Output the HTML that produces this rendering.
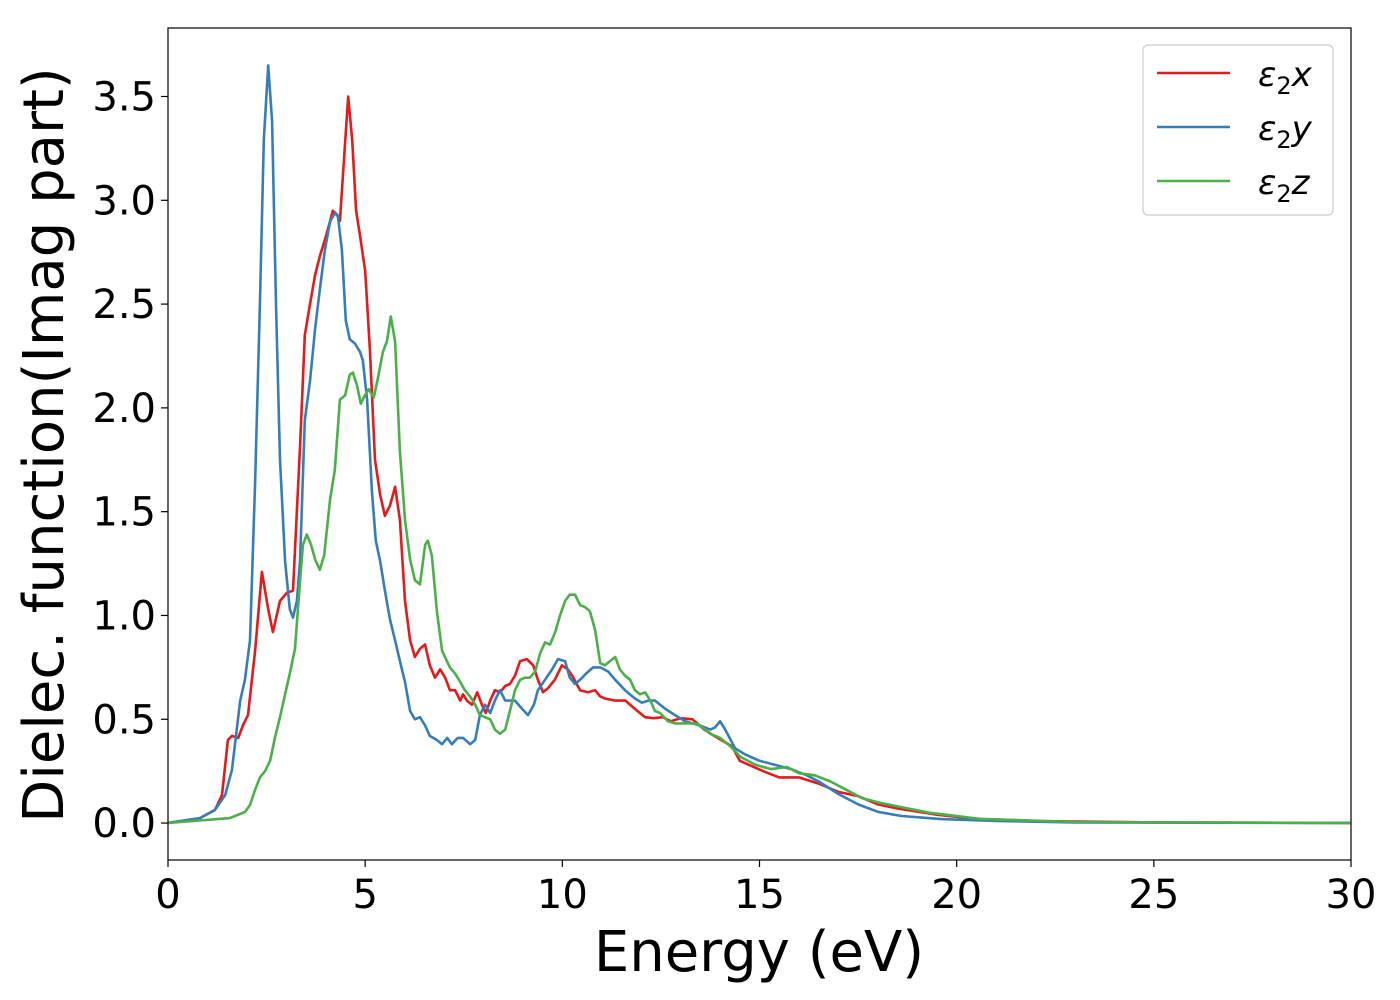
<!DOCTYPE html>
<html><head><meta charset="utf-8"><style>body{margin:0;background:#fff}svg{display:block;font-family:"DejaVu Sans","Liberation Sans",sans-serif}</style></head>
<body>
<svg id="chart" width="1400" height="1000">
<rect width="1400" height="1000" fill="#fff"/>
<g id="plot"></g>
<g id="axes"></g>
<text x="759" y="971" font-size="56" text-anchor="middle">Energy (eV)</text>
<text transform="translate(63,445) rotate(-90)" font-size="56" text-anchor="middle">Dielec. function(Imag part)</text>
<g>
<rect x="1143" y="45" width="190" height="170" rx="5" fill="#fff" stroke="#ccc" stroke-width="1.2"/>
<g><line x1="1157" y1="73" x2="1230" y2="73" stroke="#e41a1c" stroke-width="2.5"/><text x="1258" y="86" font-size="34" font-style="italic">ε<tspan font-size="24" dy="8" font-style="normal">2</tspan><tspan dy="-8">x</tspan></text></g>
<g><line x1="1157" y1="127" x2="1230" y2="127" stroke="#377eb8" stroke-width="2.5"/><text x="1258" y="140" font-size="34" font-style="italic">ε<tspan font-size="24" dy="8" font-style="normal">2</tspan><tspan dy="-8">y</tspan></text></g>
<g><line x1="1157" y1="181" x2="1230" y2="181" stroke="#4daf4a" stroke-width="2.5"/><text x="1258" y="194" font-size="34" font-style="italic">ε<tspan font-size="24" dy="8" font-style="normal">2</tspan><tspan dy="-8">z</tspan></text></g>
</g>
</svg>
<script>
const xTicks=[0,5,10,15,20,25,30];
const yTicks=[0,0.5,1.0,1.5,2.0,2.5,3.0,3.5];
const yTickLabels=["0.0","0.5","1.0","1.5","2.0","2.5","3.0","3.5"];
const seriesX=[[0,0],[0.81,0.024],[1.19,0.063],[1.37,0.135],[1.52,0.40],[1.62,0.42],[1.78,0.41],[1.90,0.47],[2.03,0.52],[2.21,0.83],[2.38,1.21],[2.54,1.03],[2.66,0.92],[2.84,1.07],[3.02,1.11],[3.17,1.12],[3.35,1.82],[3.47,2.35],[3.60,2.50],[3.73,2.64],[3.85,2.73],[3.98,2.81],[4.11,2.90],[4.18,2.95],[4.29,2.93],[4.36,2.90],[4.46,3.19],[4.57,3.50],[4.67,3.29],[4.77,2.95],[4.87,2.83],[5.00,2.66],[5.12,2.28],[5.25,1.75],[5.38,1.58],[5.50,1.48],[5.63,1.53],[5.76,1.62],[5.88,1.46],[6.01,1.07],[6.14,0.88],[6.26,0.80],[6.39,0.84],[6.52,0.86],[6.64,0.76],[6.77,0.70],[6.90,0.74],[7.03,0.70],[7.15,0.64],[7.28,0.64],[7.41,0.59],[7.48,0.62],[7.58,0.59],[7.71,0.57],[7.84,0.63],[7.96,0.57],[8.06,0.53],[8.17,0.59],[8.29,0.64],[8.42,0.63],[8.55,0.66],[8.67,0.67],[8.80,0.71],[8.93,0.78],[9.10,0.79],[9.26,0.76],[9.38,0.69],[9.51,0.63],[9.64,0.65],[9.81,0.69],[9.99,0.76],[10.14,0.74],[10.25,0.71],[10.45,0.64],[10.65,0.63],[10.83,0.64],[10.96,0.61],[11.08,0.60],[11.34,0.59],[11.6,0.59],[11.84,0.55],[12.1,0.51],[12.3,0.505],[12.55,0.51],[12.75,0.49],[13.0,0.505],[13.3,0.50],[13.6,0.45],[13.85,0.42],[14.3,0.37],[14.5,0.30],[15.1,0.25],[15.5,0.22],[16.0,0.22],[16.5,0.19],[17.0,0.15],[17.5,0.13],[18.0,0.09],[18.5,0.07],[19.5,0.04],[20.5,0.02],[22,0.01],[25,0.003],[30,0]];
const seriesY=[[0,0],[0.81,0.024],[1.19,0.063],[1.45,0.135],[1.62,0.255],[1.83,0.59],[1.95,0.69],[2.08,0.88],[2.21,1.64],[2.33,2.50],[2.43,3.29],[2.54,3.65],[2.64,3.38],[2.74,2.50],[2.84,1.75],[2.97,1.26],[3.09,1.03],[3.17,0.99],[3.27,1.07],[3.35,1.27],[3.47,1.94],[3.60,2.13],[3.73,2.38],[3.85,2.57],[3.98,2.76],[4.11,2.90],[4.24,2.94],[4.31,2.92],[4.41,2.76],[4.51,2.42],[4.61,2.33],[4.74,2.31],[4.87,2.27],[4.94,2.23],[5.05,2.04],[5.17,1.60],[5.27,1.36],[5.38,1.26],[5.50,1.12],[5.63,0.98],[5.76,0.88],[5.88,0.78],[6.01,0.68],[6.14,0.54],[6.26,0.50],[6.39,0.51],[6.52,0.47],[6.64,0.42],[6.82,0.40],[6.95,0.38],[7.08,0.41],[7.20,0.38],[7.35,0.41],[7.48,0.41],[7.66,0.38],[7.79,0.40],[7.91,0.52],[8.04,0.57],[8.17,0.53],[8.29,0.59],[8.42,0.64],[8.55,0.59],[8.67,0.59],[8.80,0.59],[8.98,0.55],[9.13,0.52],[9.28,0.57],[9.38,0.64],[9.56,0.69],[9.74,0.74],[9.89,0.79],[10.07,0.78],[10.19,0.70],[10.32,0.67],[10.45,0.69],[10.60,0.72],[10.78,0.75],[10.96,0.75],[11.16,0.73],[11.34,0.69],[11.59,0.64],[11.84,0.60],[12.02,0.58],[12.18,0.59],[12.35,0.59],[12.61,0.55],[12.86,0.52],[13.11,0.49],[13.49,0.47],[13.75,0.45],[13.87,0.46],[14.0,0.49],[14.13,0.45],[14.38,0.36],[14.64,0.33],[15.0,0.30],[15.4,0.28],[15.8,0.26],[16.2,0.23],[16.5,0.20],[17.0,0.14],[17.5,0.09],[18.0,0.054],[18.6,0.034],[19.6,0.019],[21,0.01],[23,0.003],[30,0]];
const seriesZ=[[0,0],[1.57,0.024],[1.95,0.053],[2.08,0.087],[2.21,0.16],[2.33,0.22],[2.46,0.25],[2.59,0.30],[2.71,0.41],[2.84,0.51],[2.97,0.62],[3.09,0.72],[3.22,0.84],[3.35,1.17],[3.42,1.34],[3.52,1.39],[3.63,1.34],[3.73,1.27],[3.85,1.22],[3.96,1.29],[4.11,1.56],[4.23,1.70],[4.36,2.04],[4.49,2.06],[4.61,2.16],[4.69,2.17],[4.79,2.11],[4.89,2.02],[4.99,2.06],[5.09,2.09],[5.22,2.05],[5.33,2.15],[5.45,2.27],[5.55,2.32],[5.65,2.44],[5.76,2.32],[5.88,1.79],[6.01,1.46],[6.14,1.27],[6.26,1.17],[6.39,1.15],[6.52,1.34],[6.59,1.36],[6.69,1.29],[6.82,1.02],[6.95,0.83],[7.15,0.75],[7.28,0.72],[7.41,0.68],[7.53,0.64],[7.66,0.61],[7.79,0.57],[7.91,0.52],[8.04,0.51],[8.17,0.50],[8.29,0.45],[8.42,0.43],[8.55,0.45],[8.67,0.54],[8.80,0.64],[8.93,0.69],[9.05,0.70],[9.18,0.70],[9.31,0.73],[9.44,0.82],[9.56,0.87],[9.69,0.86],[9.82,0.92],[9.94,1.00],[10.07,1.07],[10.19,1.10],[10.32,1.10],[10.45,1.05],[10.58,1.04],[10.70,1.02],[10.83,0.93],[10.96,0.77],[11.08,0.76],[11.21,0.78],[11.34,0.80],[11.46,0.74],[11.59,0.71],[11.72,0.69],[11.84,0.64],[11.97,0.62],[12.10,0.63],[12.23,0.59],[12.35,0.54],[12.48,0.53],[12.68,0.49],[12.86,0.48],[13.11,0.48],[13.37,0.48],[13.49,0.47],[13.75,0.43],[14.0,0.41],[14.26,0.37],[14.51,0.32],[14.9,0.28],[15.3,0.26],[15.7,0.27],[16.0,0.24],[16.4,0.23],[16.8,0.20],[17.2,0.16],[17.6,0.12],[18.0,0.10],[18.5,0.08],[19.3,0.05],[20.6,0.02],[23,0.005],[30,0]];
const L=168,R=1351,T=28,B=860,xmin=0,xmax=30,ymin=-0.178,ymax=3.83;
const sx=v=>L+(v-xmin)/(xmax-xmin)*(R-L);
const sy=v=>B-(v-ymin)/(ymax-ymin)*(B-T);
const NS="http://www.w3.org/2000/svg";
const plot=document.getElementById('plot'),axes=document.getElementById('axes');
function mk(tag,attrs,parent){const e=document.createElementNS(NS,tag);for(const k in attrs)e.setAttribute(k,attrs[k]);parent.appendChild(e);return e;}
const clip=mk('clipPath',{id:'cp'},plot);mk('rect',{x:L,y:T,width:R-L,height:B-T},clip);
[[seriesX,'#e41a1c','series-eps2x'],[seriesY,'#377eb8','series-eps2y'],[seriesZ,'#4daf4a','series-eps2z']].forEach(([d,c,n])=>{
 const p=mk('polyline',{points:d.map(q=>sx(q[0]).toFixed(1)+','+sy(q[1]).toFixed(1)).join(' '),fill:'none',stroke:c,'stroke-width':2.6,'stroke-linejoin':'round','clip-path':'url(#cp)'},plot);
 
 
});
const fr=mk('rect',{x:L,y:T,width:R-L,height:B-T,fill:'none',stroke:'#000','stroke-width':1.2},axes);


xTicks.forEach(v=>{
 const x=sx(v);mk('line',{x1:x,y1:B,x2:x,y2:B+7,stroke:'#000','stroke-width':1.2},axes);
 const t=mk('text',{x:x,y:B+48,'font-size':40,'text-anchor':'middle'},axes);t.textContent=v;
 
 
});
yTicks.forEach((v,i)=>{
 const y=sy(v);mk('line',{x1:L-7,y1:y,x2:L,y2:y,stroke:'#000','stroke-width':1.2},axes);
 const t=mk('text',{x:L-12,y:y+14,'font-size':40,'text-anchor':'end'},axes);t.textContent=yTickLabels[i];
 
 
});
</script>
</body></html>
